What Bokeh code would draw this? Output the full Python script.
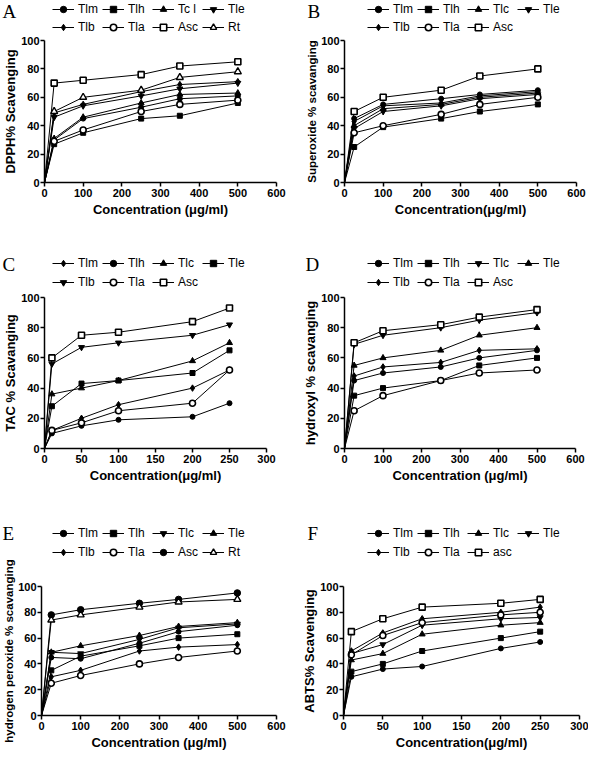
from bokeh.plotting import figure
from bokeh.models import Range1d, Legend, LegendItem, Label, FixedTicker
from bokeh.layouts import row, column
from bokeh.embed import file_html
from bokeh.resources import INLINE

# ---------------- data ----------------
# A: DPPH
dpph_conc = [0, 25, 100, 250, 350, 500]
dpph_tlm = [0, 30, 45, 53, 59, 61]
dpph_tlh = [0, 27, 35, 45, 47, 56]
dpph_tcl = [0, 31, 46, 56, 62, 63]
dpph_tle = [0, 46, 54, 61, 66, 70]
dpph_tlb = [0, 49, 55, 64, 69, 71]
dpph_tla = [0, 29, 37, 50, 55, 58]
dpph_asc = [0, 70, 72, 76, 82, 85]
dpph_rt = [0, 50, 60, 65, 74, 78]

# B: Superoxide
sup_conc = [0, 25, 100, 250, 350, 500]
sup_tlm = [0, 45, 55, 59, 62, 65]
sup_tlh = [0, 25, 39, 45, 50, 55]
sup_tlc = [0, 40, 52, 55, 60, 63]
sup_tle = [0, 38, 50, 54, 59, 62]
sup_tlb = [0, 43, 54, 56, 61, 64]
sup_tla = [0, 35, 40, 48, 55, 60]
sup_asc = [0, 50, 60, 65, 75, 80]

# C: TAC
tac_conc = [0, 10, 50, 100, 200, 250]
tac_tlm = [0, 12, 20, 29, 40, 52]
tac_tlh = [0, 10, 15, 19, 21, 30]
tac_tlc = [0, 36, 40, 45, 58, 70]
tac_tle = [0, 28, 43, 45, 50, 65]
tac_tlb = [0, 56, 67, 70, 75, 82]
tac_tla = [0, 12, 17, 25, 30, 52]
tac_asc = [0, 60, 75, 77, 84, 93]

# D: hydroxyl
hyd_conc = [0, 25, 100, 250, 350, 500]
hyd_tlm = [0, 45, 50, 54, 60, 65]
hyd_tlh = [0, 35, 40, 45, 55, 60]
hyd_tlc = [0, 69, 75, 80, 85, 90]
hyd_tle = [0, 55, 60, 65, 75, 80]
hyd_tlb = [0, 48, 54, 57, 65, 66]
hyd_tla = [0, 25, 35, 45, 50, 52]
hyd_asc = [0, 70, 78, 82, 87, 92]

# E: hydrogen peroxide
hp_conc = [0, 25, 100, 250, 350, 500]
hp_tlm = [0, 45, 44, 56, 65, 70]
hp_tlh = [0, 35, 46, 54, 60, 63]
hp_tlc = [0, 49, 48, 59, 68, 71]
hp_tle = [0, 49, 54, 62, 69, 72]
hp_tlb = [0, 30, 35, 50, 53, 55]
hp_tla = [0, 25, 31, 40, 45, 50]
hp_asc = [0, 78, 82, 87, 90, 95]
hp_rt = [0, 74, 78, 84, 88, 90]

# F: ABTS
abts_conc = [0, 10, 50, 100, 200, 250]
abts_tlm = [0, 30, 36, 38, 52, 57]
abts_tlh = [0, 34, 40, 50, 60, 65]
abts_tlc = [0, 43, 48, 63, 70, 72]
abts_tle = [0, 48, 55, 70, 75, 76]
abts_tlb = [0, 50, 64, 75, 80, 84]
abts_tla = [0, 47, 62, 72, 78, 80]
abts_asc = [0, 65, 75, 84, 87, 90]

y_ticks = [0, 20, 40, 60, 80, 100]

# ---------------- styles ----------------
STY = {
    "fc": dict(marker="circle", size=5, fill_color="black", line_width=1),
    "fs": dict(marker="square", size=5, fill_color="black", line_width=1),
    "ft": dict(marker="triangle", size=6, fill_color="black", line_width=1),
    "fi": dict(marker="inverted_triangle", size=6, fill_color="black", line_width=1),
    "fd": dict(marker="diamond", size=6.5, fill_color="black", line_width=1),
    "oc": dict(marker="circle", size=6, fill_color="white", line_width=1.6),
    "os": dict(marker="square", size=6, fill_color="white", line_width=1.6),
    "ot": dict(marker="triangle", size=7, fill_color="white", line_width=1.4),
    "fcb": dict(marker="circle", size=6.5, fill_color="black", line_width=1),
}

FONT = "Liberation Sans"


def add_series(p, x, ys, sty, visible=True):
    s = STY[sty]
    lr = p.line(x, ys, line_color="black", line_width=1, visible=visible)
    sr = p.scatter(x[1:], ys[1:], marker=s["marker"], size=s["size"],
                   fill_color=s["fill_color"], line_color="black",
                   line_width=s["line_width"], visible=visible)
    return lr, sr


def make_legend(hp, x, series, xy, row_h):
    items = []
    for name, ys, sty in series:
        lr, sr = add_series(hp, x, ys, sty, visible=False)
        items.append(LegendItem(label=name, renderers=[lr, sr]))
    leg = Legend(items=items, location=xy, orientation="horizontal", ncols=4,
                 glyph_width=22, glyph_height=16, label_height=row_h, label_width=24,
                 label_standoff=4, spacing=0, padding=0, margin=0,
                 border_line_color=None, background_fill_alpha=0,
                 inactive_fill_alpha=0,
                 label_text_font=FONT, label_text_font_size="12px",
                 label_text_color="black")
    hp.add_layout(leg, "center")


def letter(hp, text, xy):
    hp.add_layout(Label(x=xy[0], y=xy[1], x_units="screen", y_units="screen",
                        text=text, text_font="Liberation Serif", text_font_size="19px",
                        text_baseline="middle", text_align="left", text_color="black"))


def header(h, row_h, left, right):
    hp = figure(width=588, height=h, x_range=Range1d(0, 1), y_range=Range1d(0, 1),
                x_axis_type=None, y_axis_type=None, output_backend="svg",
                toolbar_location=None, min_border=0)
    hp.outline_line_color = None
    hp.background_fill_color = "white"
    for (let, lxy, x, series, gxy) in (left, right):
        make_legend(hp, x, series, gxy, row_h)
        letter(hp, let, lxy)
    return hp


def panel(x, series, xmax, xstep, xlabel, ylabel, w, h, bl, br, bt, bb, ylab_size="13px"):
    p = figure(width=w, height=h, x_range=Range1d(0, xmax), y_range=Range1d(0, 100),
               output_backend="svg", toolbar_location=None,
               min_border_left=bl, min_border_right=br,
               min_border_top=bt, min_border_bottom=bb)
    p.outline_line_color = None
    p.grid.visible = False
    p.background_fill_color = "white"
    p.xaxis.ticker = FixedTicker(ticks=list(range(0, xmax + 1, xstep)))
    p.yaxis.ticker = FixedTicker(ticks=y_ticks)
    p.xaxis.axis_label = xlabel
    p.yaxis.axis_label = ylabel
    for ax in (p.xaxis, p.yaxis):
        ax.axis_line_width = 1.5
        ax.axis_line_color = "black"
        ax.major_tick_line_width = 1.5
        ax.major_tick_line_color = "black"
        ax.major_tick_out = 4
        ax.major_tick_in = 0
        ax.minor_tick_line_color = None
        ax.major_label_text_font = FONT
        ax.major_label_text_font_style = "bold"
        ax.major_label_text_font_size = "11px"
        ax.major_label_text_color = "black"
        ax.axis_label_text_font = FONT
        ax.axis_label_text_font_style = "bold"
        ax.axis_label_text_font_size = "13px"
        ax.axis_label_text_color = "black"
    p.yaxis.axis_label_text_font_size = ylab_size
    p.xaxis.major_label_standoff = 2
    p.xaxis.axis_label_standoff = 2
    p.yaxis.major_label_standoff = 1
    p.yaxis.axis_label_standoff = 0
    for name, ys, sty in series:
        add_series(p, x, ys, sty)
    return p


MU = "\u03bc"
A_series = [("Tlm", dpph_tlm, "fc"), ("Tlh", dpph_tlh, "fs"), ("Tc l", dpph_tcl, "ft"),
            ("Tle", dpph_tle, "fi"), ("Tlb", dpph_tlb, "fd"), ("Tla", dpph_tla, "oc"),
            ("Asc", dpph_asc, "os"), ("Rt", dpph_rt, "ot")]
B_series = [("Tlm", sup_tlm, "fc"), ("Tlh", sup_tlh, "fs"), ("Tlc", sup_tlc, "ft"),
            ("Tle", sup_tle, "fi"), ("Tlb", sup_tlb, "fd"), ("Tla", sup_tla, "oc"),
            ("Asc", sup_asc, "os")]
C_series = [("Tlm", tac_tlm, "fd"), ("Tlh", tac_tlh, "fc"), ("Tlc", tac_tlc, "ft"),
            ("Tle", tac_tle, "fs"), ("Tlb", tac_tlb, "fi"), ("Tla", tac_tla, "oc"),
            ("Asc", tac_asc, "os")]
D_series = [("Tlm", hyd_tlm, "fc"), ("Tlh", hyd_tlh, "fs"), ("Tlc", hyd_tlc, "fi"),
            ("Tle", hyd_tle, "ft"), ("Tlb", hyd_tlb, "fd"), ("Tla", hyd_tla, "oc"),
            ("Asc", hyd_asc, "os")]
E_series = [("Tlm", hp_tlm, "fc"), ("Tlh", hp_tlh, "fs"), ("Tlc", hp_tlc, "fi"),
            ("Tle", hp_tle, "ft"), ("Tlb", hp_tlb, "fd"), ("Tla", hp_tla, "oc"),
            ("Asc", hp_asc, "fcb"), ("Rt", hp_rt, "ot")]
F_series = [("Tlm", abts_tlm, "fc"), ("Tlh", abts_tlh, "fs"), ("Tlc", abts_tlc, "ft"),
            ("Tle", abts_tle, "fi"), ("Tlb", abts_tlb, "fd"), ("Tla", abts_tla, "oc"),
            ("asc", abts_asc, "os")]

# row 1 (header 34 px, legend rows 18 px)
h1 = header(34, 18, ("A", (2, 23), dpph_conc, A_series, (52, -2)),
            ("B", (307, 23), sup_conc, B_series, (367, -2)))
pA = panel(dpph_conc, A_series, 600, 100, "Concentration (" + MU + "g/ml)", "DPPH% Scavenging",
           292, 204, 40, 16, 6, 56)
pB = panel(sup_conc, B_series, 600, 100, "Concentration(" + MU + "g/ml)", "Superoxide % scavanging",
           296, 204, 52, 12, 6, 56, ylab_size="11.5px")

# row 2
h2 = header(52, 19, ("C", (2, 26), tac_conc, C_series, (52, -1)),
            ("D", (305, 26), hyd_conc, D_series, (367, -1)))
pC = panel(tac_conc, C_series, 300, 50, "Concentration(" + MU + "g/ml)", "TAC % Scavanging",
           292, 206, 40, 26, 7, 48)
pD = panel(hyd_conc, D_series, 600, 100, "Concentration (" + MU + "g/ml)", "hydroxyl % scavanging",
           296, 206, 52, 13, 7, 48)

# row 3
h3 = header(62, 19, ("E", (2, 25), hp_conc, E_series, (52, -3)),
            ("F", (307, 25), abts_conc, F_series, (367, -3)))
pE = panel(hp_conc, E_series, 600, 100, "Concentration (" + MU + "g/ml)", "hydrogen peroxide % scavanging",
           292, 194, 40, 16, 28, 34, ylab_size="11.5px")
pF = panel(abts_conc, F_series, 300, 50, "Concentration(" + MU + "g/ml)", "ABTS% Scavenging",
           296, 194, 51, 9, 16, 34)

layout = column(h1, row(pA, pB), h2, row(pC, pD), h3, row(pE, pF))

open("out.html", "w").write(file_html(layout, INLINE))
